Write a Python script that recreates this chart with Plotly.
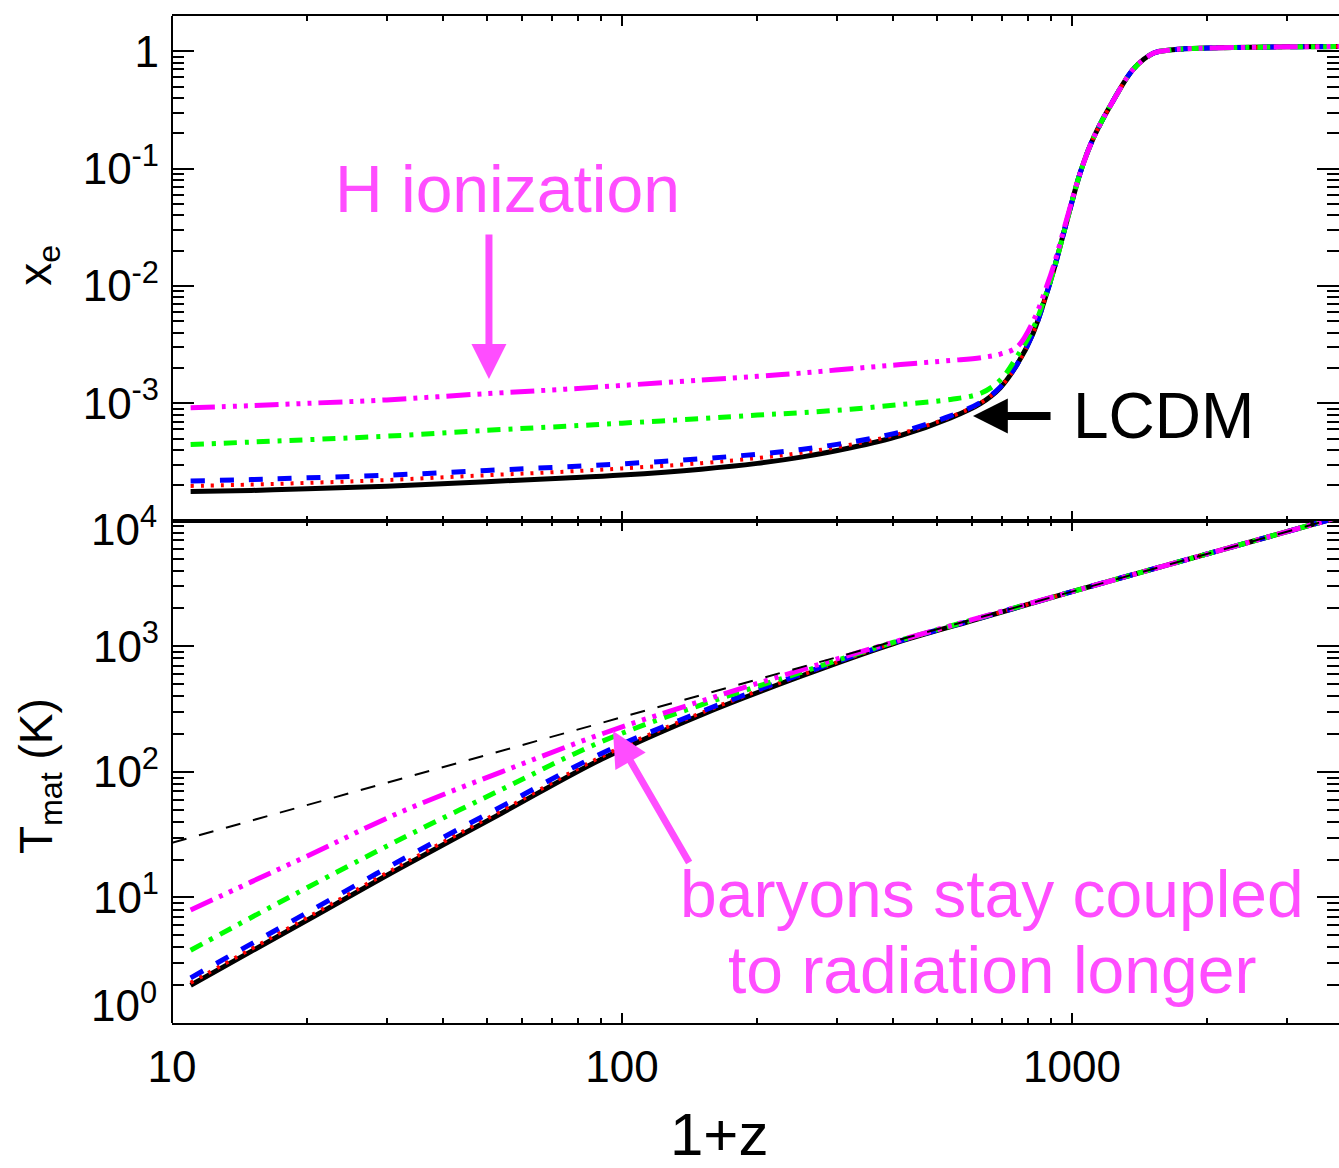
import plotly.graph_objects as go

# ---------------- data ----------------
# top panel: ionization fraction x_e versus 1+z
z_xe = [11, 15, 20, 30, 50, 75, 100, 150, 200, 250, 322, 416, 537, 627, 693,
        755, 820, 879, 910, 975, 1044, 1117, 1238, 1372, 1520, 1650, 1772,
        2000, 2500, 3000, 4000]
xe_lcdm = [1.77e-4, 1.81e-4, 1.87e-4, 1.97e-4, 2.15e-4, 2.31e-4, 2.45e-4, 2.75e-4,
           3.08e-4, 3.48e-4, 4.18e-4, 5.32e-4, 7.52e-4, 1.00e-3, 1.36e-3,
           2.14e-3, 3.98e-3, 8.71e-3, 0.0135, 0.0363, 0.0933, 0.184, 0.386,
           0.711, 0.964, 1.023, 1.047, 1.064, 1.079, 1.089, 1.096]
xe_red = [1.98e-4, 2.03e-4, 2.10e-4, 2.22e-4, 2.44e-4, 2.62e-4, 2.79e-4, 3.09e-4,
          3.42e-4, 3.79e-4, 4.45e-4, 5.52e-4, 7.67e-4, 1.01e-3, 1.37e-3,
          2.14e-3, 3.98e-3, 8.71e-3, 0.0135, 0.0363, 0.0933, 0.184, 0.386,
          0.711, 0.964, 1.023, 1.047, 1.064, 1.079, 1.089, 1.096]
xe_blue = [2.18e-4, 2.24e-4, 2.32e-4, 2.44e-4, 2.68e-4, 2.88e-4, 3.05e-4, 3.37e-4,
           3.69e-4, 4.05e-4, 4.67e-4, 5.70e-4, 7.82e-4, 1.02e-3, 1.38e-3,
           2.15e-3, 3.98e-3, 8.71e-3, 0.0135, 0.0363, 0.0933, 0.184, 0.386,
           0.711, 0.964, 1.023, 1.047, 1.064, 1.079, 1.089, 1.096]
xe_green = [4.46e-4, 4.68e-4, 4.90e-4, 5.25e-4, 5.89e-4, 6.38e-4, 6.78e-4, 7.41e-4,
            7.94e-4, 8.32e-4, 8.91e-4, 9.77e-4, 1.08e-3, 1.22e-3, 1.58e-3,
            2.51e-3, 4.37e-3, 8.91e-3, 0.0135, 0.0363, 0.0933, 0.184, 0.386,
            0.711, 0.964, 1.023, 1.047, 1.064, 1.079, 1.089, 1.096]
xe_magenta = [9.16e-4, 9.55e-4, 1.00e-3, 1.07e-3, 1.21e-3, 1.32e-3, 1.42e-3, 1.58e-3,
              1.70e-3, 1.81e-3, 1.97e-3, 2.14e-3, 2.32e-3, 2.45e-3, 2.63e-3,
              3.02e-3, 5.01e-3, 0.0100, 0.0148, 0.0380, 0.0933, 0.184, 0.386,
              0.711, 0.964, 1.023, 1.047, 1.064, 1.079, 1.089, 1.096]

# bottom panel: matter temperature versus 1+z
z_t = [11, 15, 20, 32, 54, 90, 149, 249, 400, 600, 1000, 2000, 4000]
t_lcdm = [2.0, 3.72, 6.61, 17.0, 46.8, 126, 282, 575, 1047, 1603, 2723, 5450, 10900]
t_red = [2.09, 3.89, 6.92, 17.8, 49.0, 132, 292, 586, 1057, 1607, 2723, 5450, 10900]
t_blue = [2.29, 4.27, 7.59, 19.5, 53.1, 140, 299, 596, 1062, 1611, 2723, 5450, 10900]
t_green = [3.80, 6.92, 12.0, 28.8, 72.4, 174, 339, 617, 1072, 1622, 2723, 5450, 10900]
t_magenta = [7.94, 13.3, 21.4, 47.3, 100, 200, 363, 646, 1076, 1629, 2723, 5450, 10900]
z_cmb = [10, 4000]
t_cmb = [27.25, 10900]

x_tickvals = [10, 100, 1000]
x_ticktext = ["10", "100", "1000"]
xe_tickvals = [1e-4, 1e-3, 1e-2, 1e-1, 1]
xe_ticktext = ["", "10<sup>-3</sup>", "10<sup>-2</sup>", "10<sup>-1</sup>", "1"]
t_tickvals = [1, 10, 100, 1000, 10000]
# the two end labels (10^0, 10^4) are nudged inward as in the original, drawn below
t_ticktext = ["", "10<sup>1</sup>", "10<sup>2</sup>", "10<sup>3</sup>", ""]
t_end_labels = ["10<sup>0</sup>", "10<sup>4</sup>"]

FONT = "Liberation Sans, Arial, Helvetica, sans-serif"
ANN_MAG = "#ff4dff"

styles = [
    ("black", 5, "solid"),
    ("#ff0000", 4, "3px,7px"),
    ("#0000ff", 5, "14px,15px"),
    ("#00ff00", 5, "13px,8px,4px,8px"),
    ("#ff00ff", 5, "24px,7px,4px,7px,4px,7px,4px,7px"),
]

fig = go.Figure()

top_series = [xe_lcdm, xe_red, xe_blue, xe_green, xe_magenta]
bot_series = [t_lcdm, t_red, t_blue, t_green, t_magenta]

for ys, (c, w, d) in zip(top_series, styles):
    fig.add_trace(go.Scatter(x=z_xe, y=ys, mode="lines",
                             line=dict(color=c, width=w, dash=d, shape="spline", smoothing=1.0),
                             xaxis="x", yaxis="y", showlegend=False, hoverinfo="skip"))

for ys, (c, w, d) in zip(bot_series, styles):
    fig.add_trace(go.Scatter(x=z_t, y=ys, mode="lines",
                             line=dict(color=c, width=w, dash=d, shape="spline", smoothing=1.0),
                             xaxis="x2", yaxis="y2", showlegend=False, hoverinfo="skip"))

fig.add_trace(go.Scatter(x=z_cmb, y=t_cmb, mode="lines",
                         line=dict(color="black", width=2, dash="15px,13px"),
                         xaxis="x2", yaxis="y2", showlegend=False, hoverinfo="skip"))

minor_x = dict(ticks="inside", ticklen=5, tickwidth=1.5, tickcolor="black", dtick="D1", showgrid=False)
minor_y = dict(ticks="inside", ticklen=12, tickwidth=1.5, tickcolor="black", dtick="D1", showgrid=False)

xcommon = dict(type="log", range=[1, 3.5933], showgrid=False, zeroline=False,
               showline=True, linecolor="black", linewidth=2, mirror="ticks",
               ticks="inside", ticklen=10, tickwidth=1.5, tickcolor="black",
               tickmode="array", tickvals=x_tickvals, ticktext=x_ticktext,
               minor=minor_x, automargin=False)
ycommon = dict(type="log", showgrid=False, zeroline=False, showline=False,
               mirror="ticks", ticks="inside", ticklen=22, tickwidth=1.5,
               tickcolor="black", tickmode="array", minor=minor_y,
               tickfont=dict(size=44, color="black", family=FONT),
               ticklabelstandoff=12, automargin=False)

B = 0.4988
fig.update_layout(
    width=1339, height=1168,
    margin=dict(l=172, r=0, t=16, b=145, pad=0),
    paper_bgcolor="white", plot_bgcolor="white",
    font=dict(family=FONT, color="black"),
    xaxis=dict(**xcommon, anchor="y", showticklabels=False),
    xaxis2=dict(**xcommon, anchor="y2", showticklabels=True,
                tickfont=dict(size=44, color="black", family=FONT),
                ticklabelstandoff=4),
    yaxis=dict(**ycommon, range=[-4, 0.3], domain=[B, 1], anchor="x",
               tickvals=xe_tickvals, ticktext=xe_ticktext),
    yaxis2=dict(**ycommon, range=[0, 4], domain=[0, B], anchor="x2",
                tickvals=t_tickvals, ticktext=t_ticktext),
    shapes=[dict(type="line", xref="paper", yref="paper", x0=0, x1=0, y0=0, y1=1,
                 line=dict(color="black", width=2))],
)

ann = []
# end tick labels of the temperature axis
ann.append(dict(text=t_end_labels[0], xref="paper", yref="paper", x=-0.0115, y=0.0199,
                showarrow=False, xanchor="right", yanchor="middle",
                font=dict(size=44, color="black", family=FONT)))
ann.append(dict(text=t_end_labels[1], xref="paper", yref="paper", x=-0.0115, y=0.4926,
                showarrow=False, xanchor="right", yanchor="middle",
                font=dict(size=44, color="black", family=FONT)))
# axis titles
ann.append(dict(text="x<sub>e</sub>", xref="paper", yref="paper", x=-0.115, y=0.7527,
                textangle=-90, showarrow=False, xanchor="center", yanchor="middle",
                font=dict(size=46, color="black", family=FONT)))
ann.append(dict(text="T<sub>mat</sub> (K)", xref="paper", yref="paper", x=-0.113, y=0.2453,
                textangle=-90, showarrow=False, xanchor="center", yanchor="middle",
                font=dict(size=46, color="black", family=FONT)))
ann.append(dict(text="1+z", xref="paper", yref="paper", x=0.4687, y=-0.1112,
                showarrow=False, xanchor="center", yanchor="middle",
                font=dict(size=60, color="black", family=FONT)))
# labels
ann.append(dict(text="H ionization", xref="paper", yref="paper", x=0.2871, y=0.8282,
                showarrow=False, xanchor="center", yanchor="middle",
                font=dict(size=66, color=ANN_MAG, family=FONT)))
ann.append(dict(text="LCDM", xref="paper", yref="paper", x=0.8500, y=0.6028,
                showarrow=False, xanchor="center", yanchor="middle",
                font=dict(size=64, color="black", family=FONT)))
ann.append(dict(text="baryons stay coupled", xref="paper", yref="paper", x=0.7027, y=0.1281,
                showarrow=False, xanchor="center", yanchor="middle",
                font=dict(size=66, color=ANN_MAG, family=FONT)))
ann.append(dict(text="to radiation longer", xref="paper", yref="paper", x=0.7027, y=0.0527,
                showarrow=False, xanchor="center", yanchor="middle",
                font=dict(size=66, color=ANN_MAG, family=FONT)))
# arrows
ann.append(dict(text="", xref="paper", yref="paper", x=0.2716, y=0.6395, ax=0, ay=-146,
                showarrow=True, arrowhead=2, arrowsize=1.0, arrowwidth=7,
                arrowcolor=ANN_MAG, standoff=0))
ann.append(dict(text="", xref="paper", yref="paper", x=0.6864, y=0.6028, ax=79, ay=0,
                showarrow=True, arrowhead=2, arrowsize=0.87, arrowwidth=8,
                arrowcolor="black", standoff=0))
ann.append(dict(text="", xref="paper", yref="paper", x=0.3779, y=0.2900, ax=77, ay=133,
                showarrow=True, arrowhead=2, arrowsize=1.0, arrowwidth=7,
                arrowcolor=ANN_MAG, standoff=0))
fig.update_layout(annotations=ann)

fig.write_html("out.html")
